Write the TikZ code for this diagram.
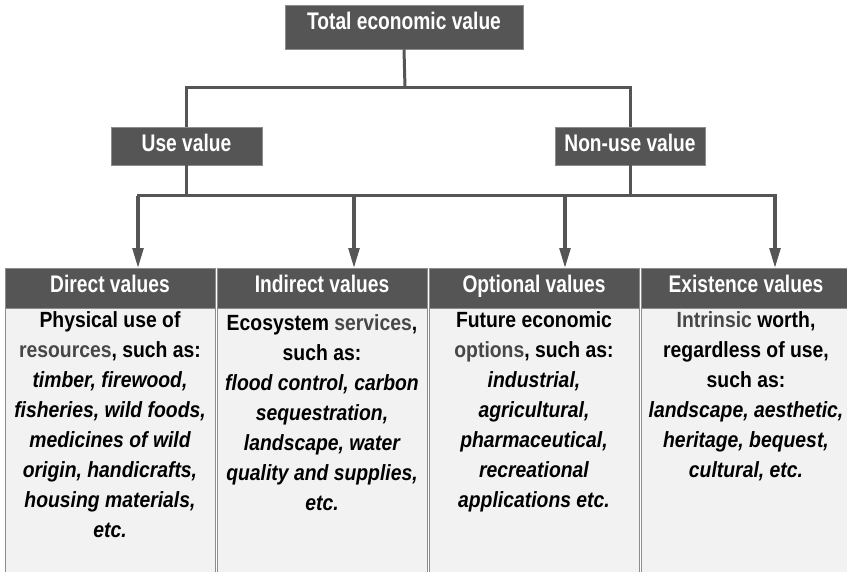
\documentclass[tikz,border=0pt]{standalone}
\usepackage{fontspec}
\setmainfont{Liberation Sans}[FakeStretch=0.88]
\newfontfamily\headfont{Liberation Sans}[FakeStretch=0.8]
\usetikzlibrary{arrows.meta}
\definecolor{boxdark}{HTML}{555555}
\definecolor{bodyfill}{HTML}{F2F2F2}
\definecolor{edgegrey}{HTML}{8C8C8C}
\definecolor{softtext}{HTML}{474747}
\newcommand{\soft}[1]{\textcolor{softtext}{#1}}
\tikzset{
  x=1pt, y=-1pt,
  darkbox/.style={draw=edgegrey, line width=0.6pt, fill=boxdark, text=white,
    font=\headfont\bfseries\fontsize{24}{28}\selectfont, inner sep=0pt,
    text height=17pt},
  bodybox/.style={draw=edgegrey, line width=0.8pt, fill=bodyfill, inner sep=0pt,
    minimum width=210pt, minimum height=270pt, anchor=north},
  bodytext/.style={align=center, inner sep=0pt, anchor=north,
    font=\bfseries\fontsize{22}{30}\selectfont},
  link/.style={draw=boxdark, line width=3pt},
  arrowlink/.style={link, line width=3.6pt,
    -{Triangle[length=20pt,width=10.5pt]}, shorten >=-0.5pt},
}
\begin{document}
\begin{tikzpicture}
\useasboundingbox (0,0) rectangle (847,572);

% upper hierarchy
\node[darkbox, minimum width=238pt, minimum height=44pt, text depth=11.8pt]
  (tev) at (404,27) {Total economic value};
\node[darkbox, minimum width=151pt, minimum height=38pt, text depth=5.6pt]
  (use) at (186.5,146) {Use value};
\node[darkbox, minimum width=150pt, minimum height=38pt, text depth=5.6pt]
  (nonuse) at (630,146) {Non-use value};

% four categories: header and body
\foreach \n/\cx/\title in {h1/110/Direct values, h2/322/Indirect values,
                          h3/534/Optional values, h4/746/Existence values}{
  \node[darkbox, minimum width=210pt, minimum height=40pt, text depth=7pt]
    (\n) at (\cx,288) {\title};
  \node[bodybox] (\n b) at (\n.south) {};
}

% joints of the connector lines
\coordinate (j1) at (405,88);
\coordinate (a1) at (138,196);
\coordinate (a2) at (354,196);
\coordinate (a3) at (565,196);
\coordinate (a4) at (775,196);

\draw[link] (tev.south) -- (j1);
\draw[link] (use.north) -- (use.north |- j1) -- (nonuse.north |- j1) -- (nonuse.north);
\draw[link] (use.south) -- (use.south |- a1);
\draw[link] (nonuse.south) -- (nonuse.south |- a4);
\draw[link, line cap=rect] (a1) -- (a4);
\foreach \k in {1,2,3,4}{
  \draw[arrowlink] (a\k) -- (a\k |- h\k.north);
}

% body texts
\node[bodytext] (t1) at ([yshift=-3pt]h1.south) {%
  Physical use of\\
  \soft{resources}, such as:\\
  \itshape timber, firewood,\\
  \itshape fisheries, wild foods,\\
  \itshape medicines of wild\\
  \itshape origin, handicrafts,\\
  \itshape housing materials,\\
  \itshape etc.};
\node[bodytext] (t2) at ([yshift=-6pt]h2.south) {%
  Ecosystem \soft{services},\\
  such as:\\
  \itshape flood control, carbon\\
  \itshape sequestration,\\
  \itshape landscape, water\\
  \itshape quality and supplies,\\
  \itshape etc.};
\node[bodytext] (t3) at ([yshift=-3pt]h3.south) {%
  Future economic\\
  \soft{options}, such as:\\
  \itshape industrial,\\
  \itshape agricultural,\\
  \itshape pharmaceutical,\\
  \itshape recreational\\
  \itshape applications etc.};
\node[bodytext] (t4) at ([yshift=-3pt]h4.south) {%
  \soft{Intrinsic} worth,\\
  regardless of use,\\
  such as:\\
  \itshape landscape, aesthetic,\\
  \itshape heritage, bequest,\\
  \itshape cultural, etc.};
\end{tikzpicture}
\end{document}
